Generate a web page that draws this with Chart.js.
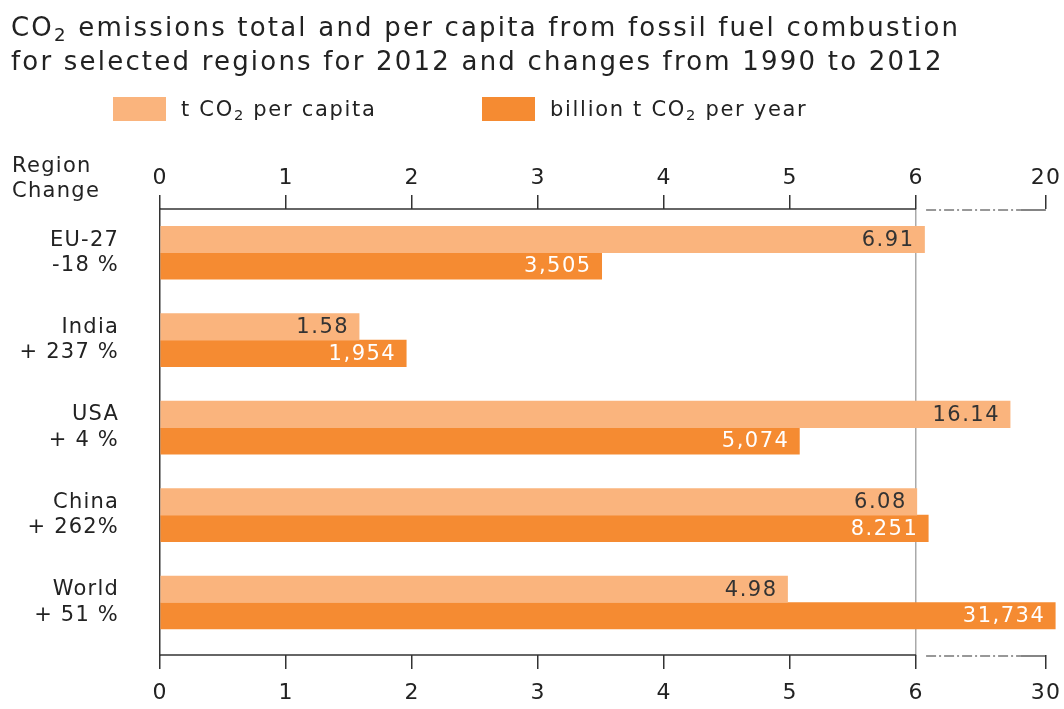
<!DOCTYPE html>
<html lang="en">
<head>
  <meta charset="UTF-8" />
  <title>CO2 emissions per region</title>
  <script src="https://cdn.jsdelivr.net/npm/chart.js"></script>
  <style>
    body { margin: 0; background: #fff; }
    .wrap { position: relative; width: 1064px; height: 709px; }
    .title {
      position: absolute; left: 11px; top: 10px;
      font: 26px "DejaVu Sans", sans-serif; line-height: 34px; color: #222;
      letter-spacing: 2.2px; white-space: nowrap;
    }
    .legend {
      position: absolute; top: 97px; left: 113px;
      font: 21px "DejaVu Sans", sans-serif; color: #222; letter-spacing: 1.7px;
    }
    .legend span.sw { display: inline-block; width: 53px; height: 24px; vertical-align: -5px; margin-right: 15px; }
    .legend .item { position: absolute; white-space: nowrap; }
    sub { font-size: 0.7em; vertical-align: -0.3em; line-height: 0; }
  </style>
</head>
<body>
  <div class="wrap">
    <canvas id="co2Chart"></canvas>
    <div class="title">CO<sub>2</sub> emissions total and per capita from fossil fuel combustion<br>for selected regions for 2012 and changes from 1990 to 2012</div>
    <div class="legend">
      <div class="item" style="left:0"><span class="sw" style="background:#FAB47D"></span>t CO<sub>2</sub> per capita</div>
      <div class="item" style="left:369px"><span class="sw" style="background:#F58B32"></span>billion t CO<sub>2</sub> per year</div>
    </div>
  </div>

  <script>
    // data
    const regions = ["EU-27", "India", "USA", "China", "World"];
    const changes = ["-18 %", "+ 237 %", "+ 4 %", "+ 262%", "+ 51 %"];
    const perCapita = [6.91, 1.58, 16.14, 6.08, 4.98];          // t CO2 per capita
    const totalMt = [3505, 1954, 5074, 8251, 31734];            // million t CO2 per year
    const totalText = ["3,505", "1,954", "5,074", "8.251", "31,734"];
    const topTicks = ["0", "1", "2", "3", "4", "5", "6", "20"];
    const bottomTicks = ["0", "1", "2", "3", "4", "5", "6", "30"];

    // broken axis: linear up to 6, then 6..20 (top) / 6..30 (bottom) squeezed in
    const BREAK_AT = 6;
    const BREAK_W = 1.03;
    function squeeze(v, end) {
      if (v <= BREAK_AT) return v;
      return BREAK_AT + (v - BREAK_AT) / (end - BREAK_AT) * BREAK_W;
    }
    const tickVals = [0, 1, 2, 3, 4, 5, 6, BREAK_AT + BREAK_W];

    const LIGHT = "#FAB47D";
    const DARK = "#F58B32";
    const FONT = "DejaVu Sans";

    // wide letter spacing everywhere on the canvas
    const spacing = {
      id: "spacing",
      beforeLayout(chart) { chart.ctx.letterSpacing = "1.2px"; },
      beforeDraw(chart) { chart.ctx.letterSpacing = "1.2px"; }
    };

    const axisLines = {
      id: "axisLines",
      afterDraw(chart) {
        const ctx = chart.ctx;
        const xs = chart.scales.x;
        const a = chart.chartArea;
        const x0 = xs.getPixelForValue(0), x6 = xs.getPixelForValue(BREAK_AT);
        const xe = xs.getPixelForValue(BREAK_AT + BREAK_W);
        ctx.save();
        ctx.strokeStyle = "#333";
        [a.top, a.bottom].forEach(y => {
          ctx.lineWidth = 1.5;
          ctx.setLineDash([]);
          ctx.beginPath(); ctx.moveTo(x0, y); ctx.lineTo(x6, y); ctx.stroke();
          ctx.lineWidth = 1.2;
          ctx.setLineDash([10, 3, 2, 3]);
          ctx.beginPath(); ctx.moveTo(x6 + 10, y + 1); ctx.lineTo(xe - 25, y + 1); ctx.stroke();
          ctx.setLineDash([]);
          ctx.beginPath(); ctx.moveTo(xe - 25, y + 1); ctx.lineTo(xe, y + 1); ctx.stroke();
        });
        // header
        ctx.fillStyle = "#222";
        ctx.font = "21px " + FONT;
        ctx.letterSpacing = "1.3px";
        ctx.textAlign = "left";
        ctx.textBaseline = "alphabetic";
        ctx.fillText("Region", 12, 172);
        ctx.fillText("Change", 12, 197);
        ctx.restore();
      }
    };

    const barLabels = {
      id: "barLabels",
      afterDatasetsDraw(chart) {
        const ctx = chart.ctx;
        ctx.save();
        ctx.font = "21px " + FONT;
        ctx.letterSpacing = "1.5px";
        ctx.textAlign = "right";
        ctx.textBaseline = "middle";
        chart.getDatasetMeta(0).data.forEach((bar, i) => {
          ctx.fillStyle = "#333";
          ctx.fillText(perCapita[i].toFixed(2), bar.x - 10, bar.y + 1);
        });
        chart.getDatasetMeta(1).data.forEach((bar, i) => {
          ctx.fillStyle = "#fff";
          ctx.fillText(totalText[i], bar.x - 10, bar.y + 1);
        });
        ctx.restore();
      }
    };

    function xAxis(position, labels, gridOn) {
      return {
        type: "linear",
        position: position,
        min: 0,
        max: 7.15,
        afterBuildTicks: s => { s.ticks = tickVals.map(v => ({ value: v })); },
        afterFit: s => {
          s.height = position === "top" ? 59 : 54;
          s.paddingLeft = 0;
          s.paddingRight = 0;
        },
        border: { display: false },
        grid: {
          drawOnChartArea: gridOn,
          color: c => (c.tick && c.tick.value === BREAK_AT) ? "#aaa" : "rgba(0,0,0,0)",
          lineWidth: 1.5,
          tickColor: "#333",
          tickWidth: 1.5,
          tickLength: 14
        },
        ticks: {
          autoSkip: false,
          maxRotation: 0,
          padding: position === "top" ? 4 : 11,
          color: "#222",
          font: { family: FONT, size: 22 },
          callback: (v, i) => labels[i]
        }
      };
    }

    new Chart(document.getElementById("co2Chart"), {
      type: "bar",
      data: {
        labels: regions.map((r, i) => [r, changes[i]]),
        datasets: [
          {
            label: "t CO2 per capita",
            data: perCapita.map(v => squeeze(v, 20)),
            backgroundColor: LIGHT,
            barThickness: 26.5
          },
          {
            label: "billion t CO2 per year",
            data: totalMt.map(v => squeeze(v / 1000, 30)),
            backgroundColor: DARK,
            barThickness: 26.5
          }
        ]
      },
      options: {
        indexAxis: "y",
        responsive: true,
        maintainAspectRatio: false,
        animation: false,
        layout: { padding: { top: 150, left: 0, right: 3, bottom: 0 } },
        plugins: { legend: { display: false }, tooltip: { enabled: false } },
        scales: {
          x: xAxis("bottom", bottomTicks, true),
          xTop: xAxis("top", topTicks, false),
          y: {
            type: "category",
            // a little extra room under the last region, as in the original
            afterBuildTicks: s => { s._valueRange = 5.1; },
            afterFit: s => { s.width = 160; s.paddingTop = 0; s.paddingBottom = 0; },
            border: { display: true, color: "#333", width: 1.5 },
            grid: { display: false },
            ticks: {
              padding: 33,
              color: "#222",
              font: { family: FONT, size: 21 }
            }
          }
        }
      },
      plugins: [spacing, axisLines, barLabels]
    });
  </script>
</body>
</html>
